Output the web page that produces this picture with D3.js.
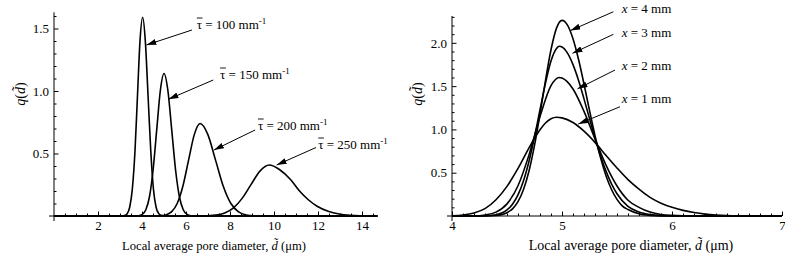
<!DOCTYPE html>
<html>
<head>
<meta charset="utf-8">
<script src="https://cdn.jsdelivr.net/npm/d3@7"></script>
<style>
  body { margin: 0; background: #fff; }
  svg { display: block; }
</style>
</head>
<body>
<svg id="chart" width="785" height="255"></svg>
<script>
// left panel: q(d) for four mean tortuosity values
var tau100 = [[0, 0], [3.09, 0], [3.21, 0.0035], [3.325, 0.018], [3.44, 0.07], [3.56, 0.215], [3.68, 0.516],
  [3.795, 0.964], [3.91, 1.403], [4.03, 1.59], [4.15, 1.403], [4.275, 0.964], [4.4, 0.516], [4.52, 0.215],
  [4.64, 0.07], [4.765, 0.018], [4.89, 0.0035], [5.03, 0], [14.7, 0]];
var tau150 = [[0, 0], [3.68, 0], [3.845, 0.0025], [4.01, 0.0127], [4.175, 0.05], [4.34, 0.154], [4.505, 0.37],
  [4.67, 0.691], [4.835, 1.006], [5.0, 1.14], [5.175, 1.006], [5.35, 0.691], [5.525, 0.37], [5.7, 0.154],
  [5.875, 0.05], [6.05, 0.0127], [6.225, 0.0025], [6.4, 0], [14.7, 0]];
var tau200 = [[0, 0], [4.56, 0], [4.82, 0.0016], [5.08, 0.0082], [5.34, 0.0325], [5.6, 0.1], [5.86, 0.24],
  [6.12, 0.449], [6.38, 0.653], [6.64, 0.74], [6.99, 0.653], [7.34, 0.449], [7.69, 0.24], [8.04, 0.1],
  [8.39, 0.0325], [8.74, 0.0082], [9.09, 0.0016], [9.44, 0], [14.7, 0]];
var tau250 = [[0, 0], [6.56, 0], [6.96, 0.0016], [7.36, 0.0068], [7.76, 0.024], [8.16, 0.065], [8.56, 0.143],
  [8.96, 0.253], [9.36, 0.359], [9.79, 0.408], [10.26, 0.37], [10.76, 0.29], [11.16, 0.2], [11.56, 0.13],
  [11.96, 0.078], [12.46, 0.038], [12.96, 0.016], [13.46, 0.006], [13.96, 0.002], [14.46, 0.0005], [14.7, 0]];
var tauNames = ["100", "150", "200", "250"];
var leftXTicks = [2, 4, 6, 8, 10, 12, 14];
var leftYTicks = [0.5, 1.0, 1.5];

// right panel: q(d) at four distances x
var dist1 = [[4.0, 0.003], [4.1, 0.012], [4.2, 0.035], [4.3, 0.085], [4.4, 0.188], [4.5, 0.342], [4.6, 0.55],
  [4.7, 0.787], [4.75, 0.899], [4.8, 0.997], [4.85, 1.074], [4.9, 1.123], [4.95, 1.14], [5.0, 1.133],
  [5.1, 1.08], [5.2, 0.98], [5.3, 0.85], [5.4, 0.7], [5.5, 0.555], [5.6, 0.42], [5.7, 0.31], [5.8, 0.215],
  [5.9, 0.148], [6.0, 0.1], [6.1, 0.065], [6.2, 0.04], [6.3, 0.022], [6.4, 0.011], [6.5, 0.005], [6.7, 0.001], [7.0, 0]];
var dist2 = [[4.0, 0], [4.2, 0.0013], [4.3, 0.0116], [4.4, 0.045], [4.5, 0.14], [4.6, 0.349], [4.7, 0.706],
  [4.8, 1.149], [4.9, 1.506], [4.975, 1.6], [5.0, 1.594], [5.1, 1.467], [5.2, 1.208], [5.3, 0.89], [5.4, 0.587],
  [5.5, 0.346], [5.6, 0.182], [5.7, 0.1], [5.8, 0.045], [5.9, 0.018], [6.0, 0.007], [6.1, 0.0025], [6.3, 0.0003], [7.0, 0]];
var dist3 = [[4.0, 0], [4.3, 0.0024], [4.4, 0.015], [4.5, 0.07], [4.55, 0.136], [4.6, 0.243], [4.65, 0.406],
  [4.7, 0.632], [4.75, 0.912], [4.8, 1.227], [4.85, 1.535], [4.9, 1.79], [4.95, 1.935], [4.976, 1.96],
  [5.0, 1.952], [5.05, 1.881], [5.1, 1.748], [5.15, 1.568], [5.2, 1.353], [5.25, 1.125], [5.3, 0.902],
  [5.35, 0.696], [5.4, 0.518], [5.45, 0.372], [5.5, 0.257], [5.6, 0.11], [5.7, 0.045], [5.8, 0.016],
  [5.9, 0.005], [6.0, 0.0015], [7.0, 0]];
var dist4 = [[4.0, 0], [4.3, 0.0003], [4.4, 0.006], [4.45, 0.016], [4.5, 0.038], [4.55, 0.083], [4.6, 0.166],
  [4.65, 0.306], [4.7, 0.52], [4.75, 0.815], [4.8, 1.177], [4.85, 1.566], [4.9, 1.92], [4.95, 2.17], [5.0, 2.26],
  [5.05, 2.205], [5.1, 2.047], [5.15, 1.81], [5.2, 1.524], [5.25, 1.219], [5.3, 0.929], [5.35, 0.674],
  [5.4, 0.465], [5.45, 0.306], [5.5, 0.192], [5.55, 0.114], [5.6, 0.075], [5.7, 0.025], [5.8, 0.007],
  [5.9, 0.002], [7.0, 0]];
var distNames = ["1", "2", "3", "4"];
var rightXTicks = [4, 5, 6, 7];
var rightYTicks = [0.5, 1.0, 1.5, 2.0];

var SERIF = "Liberation Serif";

var svg = d3.select("#chart").attr("font-family", SERIF);

svg.append("defs").append("marker")
  .attr("id", "head")
  .attr("markerUnits", "userSpaceOnUse")
  .attr("viewBox", "0 0 10 6")
  .attr("refX", 10).attr("refY", 3)
  .attr("markerWidth", 10).attr("markerHeight", 6)
  .attr("orient", "auto")
  .append("path").attr("d", "M0,0L10,3L0,6Z").attr("fill", "#000");

function drawPanel(p) {
  var g = svg.append("g");
  var x = d3.scaleLinear().domain(p.xDomain).range(p.xRange);
  var y = d3.scaleLinear().domain(p.yDomain).range([216, p.yTop]);
  var x0 = p.xDomain[0];

  // minor + major ticks, pointing into the plot
  g.append("g").attr("transform", "translate(0," + y(0) + ")")
    .call(d3.axisBottom(x).tickValues(p.xMinor).tickSize(-2.5).tickFormat(""));
  g.append("g").attr("transform", "translate(0," + y(0) + ")")
    .call(d3.axisBottom(x).tickValues(p.xTicks).tickSize(-4.5).tickPadding(5).tickFormat(d3.format("d")));
  g.append("g").attr("transform", "translate(" + x(x0) + ",0)")
    .call(d3.axisLeft(y).tickValues(p.yMinor).tickSize(-2.5).tickFormat(""));
  g.append("g").attr("transform", "translate(" + x(x0) + ",0)")
    .call(d3.axisLeft(y).tickValues(p.yTicks).tickSize(-4.5).tickPadding(5).tickFormat(d3.format(".1f")));
  g.selectAll(".domain").remove();
  g.selectAll("g").attr("font-family", SERIF).attr("font-size", 13);
  g.selectAll(".tick line").attr("stroke", "#000");

  g.append("line").attr("x1", x(x0) - 5).attr("x2", p.xRange[1]).attr("y1", y(0)).attr("y2", y(0))
    .attr("stroke", "#000");
  g.append("line").attr("x1", x(x0)).attr("x2", x(x0)).attr("y1", y(0) + 5).attr("y2", p.yTop)
    .attr("stroke", "#000");

  var line = d3.line().x(d => x(d[0])).y(d => y(d[1])).curve(d3.curveMonotoneX);
  g.selectAll("path.curve").data(p.series).enter().append("path")
    .attr("class", "curve")
    .attr("d", line)
    .attr("fill", "none").attr("stroke", "#000").attr("stroke-width", 1.6);

  // annotations: arrow + label
  p.notes.forEach(function (n, i) {
    g.append("line")
      .attr("x1", x(n.from[0])).attr("y1", y(n.from[1]))
      .attr("x2", x(n.tip[0])).attr("y2", y(n.tip[1]))
      .attr("stroke", "#000").attr("stroke-width", 1)
      .attr("marker-end", "url(#head)");
    p.label(g, x(n.at[0]), y(n.at[1]), p.names[i]);
  });

  // axis titles
  var yl = g.append("text")
    .attr("transform", "translate(" + p.yLabelX + ",94) rotate(-90)")
    .attr("text-anchor", "middle").attr("font-size", 14);
  yl.append("tspan").attr("font-style", "italic").text("q");
  yl.append("tspan").text("(");
  yl.append("tspan").attr("font-style", "italic").text("d\u0303");
  yl.append("tspan").text(")");

  var xl = g.append("text")
    .attr("x", p.xLabelX).attr("y", 250)
    .attr("text-anchor", "middle").attr("font-size", p.xLabelSize);
  xl.append("tspan").text("Local average pore diameter,\u00a0");
  xl.append("tspan").attr("font-style", "italic").text("d\u0303");
  xl.append("tspan").text("\u00a0(\u03bcm)");
}

drawPanel({
  xDomain: [0, 14.7], xRange: [54, 377.4], yDomain: [0, 1.63], yTop: 12.25,
  xTicks: leftXTicks, yTicks: leftYTicks,
  xMinor: d3.range(0.5, 14.7, 0.5).filter(v => v % 2 !== 0),
  yMinor: d3.range(1, 17).map(v => v / 10).filter(v => Math.round(v * 10) % 5 !== 0),
  series: [tau100, tau150, tau200, tau250],
  names: tauNames,
  notes: [
    { from: [6.27, 1.488], tip: [4.2, 1.368], at: [6.49, 1.5] },
    { from: [7.24, 1.088], tip: [5.2, 0.934], at: [7.55, 1.1] },
    { from: [9.14, 0.688], tip: [7.27, 0.528], at: [9.27, 0.692] },
    { from: [11.91, 0.548], tip: [10.12, 0.408], at: [12.01, 0.54] }
  ],
  label: function (g, px, py, v) {
    var tau = g.append("text").attr("x", px).attr("y", py).attr("font-size", 13).text("\u03c4");
    var w = tau.node().getComputedTextLength();
    g.append("line").attr("x1", px).attr("x2", px + w + 0.5)
      .attr("y1", py - 10.5).attr("y2", py - 10.5).attr("stroke", "#000").attr("stroke-width", 0.9);
    var t = g.append("text").attr("x", px + w).attr("y", py).attr("font-size", 13);
    t.append("tspan").text("\u00a0= " + v + " mm");
    t.append("tspan").attr("dy", -5).attr("font-size", 9).text("-1");
  },
  yLabelX: 25, xLabelX: 214, xLabelSize: 12.6
});

drawPanel({
  xDomain: [4, 7], xRange: [452, 782], yDomain: [0, 2.31], yTop: 16,
  xTicks: rightXTicks, yTicks: rightYTicks,
  xMinor: d3.range(41, 70).map(v => v / 10).filter(v => Math.round(v * 10) % 10 !== 0),
  yMinor: d3.range(1, 24).map(v => v / 10).filter(v => Math.round(v * 10) % 5 !== 0),
  series: [dist1, dist2, dist3, dist4],
  names: distNames,
  notes: [
    { from: [5.527, 1.262], tip: [5.148, 1.062], at: [5.543, 1.301] },
    { from: [5.482, 1.686], tip: [5.141, 1.469], at: [5.543, 1.686] },
    { from: [5.467, 2.098], tip: [5.095, 1.879], at: [5.543, 2.07] },
    { from: [5.467, 2.359], tip: [5.077, 2.142], at: [5.543, 2.341] }
  ],
  label: function (g, px, py, v) {
    var t = g.append("text").attr("x", px).attr("y", py).attr("font-size", 13);
    t.append("tspan").attr("font-style", "italic").text("x");
    t.append("tspan").text("\u00a0= " + v + " mm");
  },
  yLabelX: 422, xLabelX: 631, xLabelSize: 14
});
</script>
</body>
</html>
